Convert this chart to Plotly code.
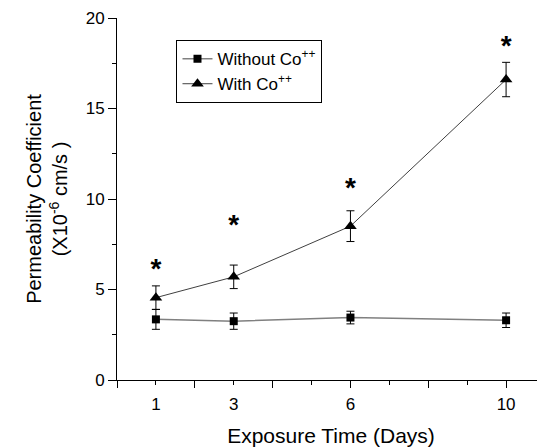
import plotly.graph_objects as go

days = [1, 3, 6, 10]
without_co = [3.35, 3.25, 3.45, 3.3]
without_err = [0.55, 0.45, 0.35, 0.4]
with_co = [4.55, 5.7, 8.5, 16.6]
with_err = [0.65, 0.65, 0.85, 0.95]
star_y = [6.05, 8.45, 10.5, 18.35]
x_label_vals = [1, 3, 6, 10]
x_minor_vals = list(range(0, 11))
x_major_vals = [0, 2, 4, 6, 8, 10]
y_ticks = [0, 5, 10, 15, 20]

font = "Liberation Sans, Arial, sans-serif"

fig = go.Figure()
fig.add_trace(go.Scatter(
    x=days, y=without_co, mode="lines+markers", name="Without Co<sup>++</sup>",
    line=dict(color="#808080", width=1.5),
    marker=dict(symbol="square", size=8, color="black"),
    error_y=dict(type="data", array=without_err, color="black", thickness=1, width=4),
))
fig.add_trace(go.Scatter(
    x=days, y=with_co, mode="lines+markers", name="With Co<sup>++</sup>",
    line=dict(color="#404040", width=1),
    marker=dict(symbol="triangle-up", size=11, color="black"),
    error_y=dict(type="data", array=with_err, color="black", thickness=1, width=4),
))
fig.add_trace(go.Scatter(
    x=days, y=star_y, mode="text", text=["<b>*</b>"] * len(days), showlegend=False,
    textfont=dict(family=font, size=28, color="black"), hoverinfo="skip",
))
# overlay axis only to draw the long ticks at even days
fig.add_trace(go.Scatter(x=[0], y=[0], xaxis="x2", mode="markers",
                         marker=dict(opacity=0), showlegend=False, hoverinfo="skip"))

ticktext = [str(v) if v in x_label_vals else "" for v in x_minor_vals]

fig.update_layout(
    width=537, height=440,
    margin=dict(l=109, r=0, t=10, b=68),
    paper_bgcolor="white", plot_bgcolor="white",
    font=dict(family=font, size=17, color="black"),
    showlegend=True,
    legend=dict(x=0.139, y=0.939, xanchor="left", yanchor="top",
                bordercolor="black", borderwidth=1, bgcolor="white",
                font=dict(size=17), tracegroupgap=0),
    xaxis=dict(
        range=[0, 11], showgrid=False, zeroline=False, automargin=False,
        showline=True, linecolor="black", linewidth=1,
        tickmode="array", tickvals=x_minor_vals, ticktext=ticktext,
        ticks="outside", ticklen=4, tickcolor="black", ticklabelstandoff=5,
        title=dict(text="Exposure Time (Days)", font=dict(size=21), standoff=14),
        tickfont=dict(size=17),
    ),
    xaxis2=dict(
        range=[0, 11], overlaying="x", anchor="y", side="bottom", automargin=False,
        showgrid=False, zeroline=False, showline=False,
        tickmode="array", tickvals=x_major_vals, showticklabels=False,
        ticks="outside", ticklen=7, tickcolor="black",
    ),
    yaxis=dict(
        range=[0, 20], showgrid=False, zeroline=False, automargin=False,
        showline=True, linecolor="black", linewidth=1,
        tickmode="array", tickvals=y_ticks,
        ticks="outside", ticklen=8, tickcolor="black",
        minor=dict(dtick=2.5, tick0=0, ticks="outside", ticklen=4, tickcolor="black"),
        title=dict(text="Permeability Coefficient<br>(X10<sup>-6</sup> cm/s )",
                   font=dict(size=20), standoff=12),
        tickfont=dict(size=17),
    ),
)
fig.write_html("out.html")
